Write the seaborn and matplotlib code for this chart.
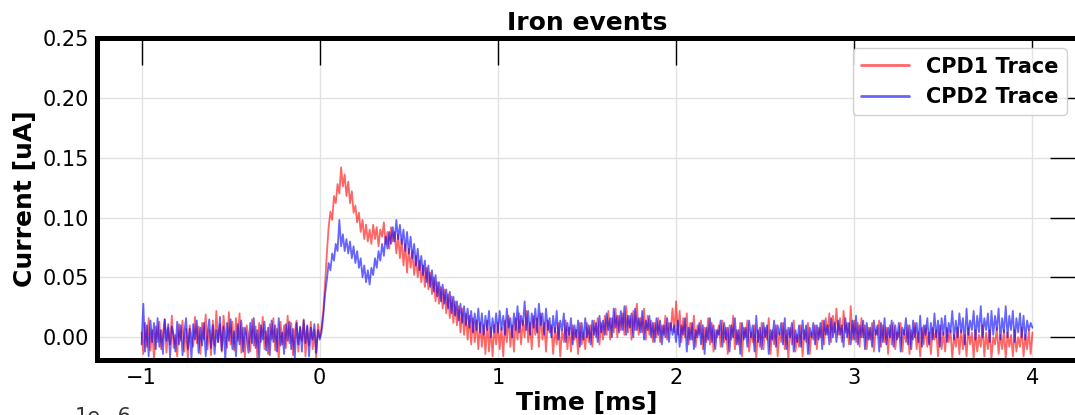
import numpy as np
import pandas as pd
import matplotlib
matplotlib.use("Agg")
import matplotlib.pyplot as plt
import seaborn as sns

# Trace samples in uA, one every 0.01 ms from -1 ms to 4 ms
# each row holds 0.1 ms of samples, row start time in the comment
cpd1_trace = [
    # baseline
    0.004, -0.014, 0.012, -0.008, 0.016, -0.011, 0.006, -0.019, 0.009, -0.004,   # -1.0
    0.013, -0.010, 0.003, 0.015, -0.013, 0.008, -0.006, 0.018, -0.009, 0.002,    # -0.9
    -0.016, 0.011, -0.003, 0.014, -0.012, 0.007, -0.018, 0.010, 0.001, -0.008,   # -0.8
    0.017, -0.005, 0.009, -0.014, 0.012, -0.002, 0.019, -0.010, 0.006, -0.015,   # -0.7
    0.014, -0.007, 0.022, -0.004, 0.011, -0.012, 0.018, 0.002, -0.009, 0.021,    # -0.6
    -0.006, 0.013, -0.011, 0.016, -0.003, 0.020, -0.013, 0.008, -0.017, 0.010,   # -0.5
    0.001, -0.012, 0.015, -0.007, 0.009, -0.018, 0.012, -0.004, 0.017, -0.010,   # -0.4
    0.005, -0.014, 0.011, -0.002, 0.016, -0.011, 0.007, -0.019, 0.013, -0.006,   # -0.3
    0.010, -0.009, 0.018, -0.005, 0.012, -0.015, 0.004, 0.014, -0.012, 0.008,    # -0.2
    -0.003, 0.015, -0.016, 0.009, -0.007, 0.013, -0.010, 0.006, -0.018, 0.011,   # -0.1
    # pulse
    0.000, 0.008, 0.022, 0.045, 0.070, 0.092, 0.105, 0.098, 0.118, 0.112,        # 0.0
    0.128, 0.120, 0.142, 0.126, 0.136, 0.118, 0.130, 0.112, 0.122, 0.104,        # 0.1
    0.110, 0.096, 0.104, 0.088, 0.098, 0.082, 0.094, 0.080, 0.090, 0.078,        # 0.2
    0.094, 0.082, 0.092, 0.076, 0.090, 0.084, 0.096, 0.078, 0.088, 0.074,        # 0.3
    0.092, 0.080, 0.088, 0.070, 0.086, 0.066, 0.082, 0.060, 0.078, 0.054,        # 0.4
    0.074, 0.058, 0.072, 0.052, 0.068, 0.050, 0.064, 0.046, 0.060, 0.042,        # 0.5
    0.058, 0.040, 0.054, 0.036, 0.050, 0.030, 0.046, 0.028, 0.042, 0.024,        # 0.6
    0.040, 0.020, 0.036, 0.016, 0.034, 0.012, 0.030, 0.010, 0.026, 0.004,        # 0.7
    0.024, 0.002, 0.020, -0.002, 0.018, -0.006, 0.016, -0.004, 0.014, -0.010,    # 0.8
    0.012, -0.008, 0.010, -0.014, 0.014, -0.012, 0.008, -0.016, 0.010, -0.006,   # 0.9
    # tail
    0.012, -0.010, 0.008, -0.016, 0.014, -0.004, 0.018, -0.008, 0.010, -0.012,   # 1.0
    0.016, -0.002, 0.020, -0.006, 0.014, 0.000, 0.022, -0.004, 0.012, -0.010,    # 1.1
    0.018, 0.002, 0.016, -0.008, 0.020, -0.002, 0.012, -0.012, 0.014, 0.004,     # 1.2
    0.010, -0.014, 0.008, -0.006, 0.012, -0.016, 0.006, -0.004, 0.014, -0.010,   # 1.3
    0.008, -0.012, 0.010, -0.002, 0.006, -0.014, 0.012, -0.006, 0.004, -0.010,   # 1.4
    0.012, -0.004, 0.010, -0.008, 0.014, 0.000, 0.016, -0.006, 0.012, -0.002,    # 1.5
    0.018, 0.002, 0.022, -0.002, 0.016, 0.004, 0.024, 0.000, 0.018, 0.006,       # 1.6
    0.020, 0.002, 0.026, 0.004, 0.018, -0.002, 0.022, 0.006, 0.028, 0.002,       # 1.7
    0.016, 0.004, 0.024, -0.002, 0.018, 0.002, 0.014, -0.004, 0.012, 0.000,      # 1.8
    0.016, -0.004, 0.010, 0.002, 0.018, -0.002, 0.012, 0.006, 0.024, 0.004,      # 1.9
    0.030, 0.002, 0.022, -0.004, 0.016, 0.000, 0.020, -0.006, 0.012, -0.002,     # 2.0
    0.018, -0.008, 0.010, 0.002, 0.014, -0.010, 0.008, -0.004, 0.016, -0.006,    # 2.1
    0.012, -0.012, 0.006, 0.000, 0.010, -0.008, 0.014, -0.004, 0.008, -0.014,    # 2.2
    0.010, -0.002, 0.018, -0.010, 0.006, -0.006, 0.012, -0.016, 0.008, 0.000,    # 2.3
    0.014, -0.012, 0.004, -0.004, 0.010, -0.018, 0.006, -0.008, 0.012, -0.010,   # 2.4
    0.008, -0.002, 0.016, -0.014, 0.006, -0.006, 0.010, -0.016, 0.004, -0.004,   # 2.5
    0.012, -0.010, 0.006, -0.018, 0.008, -0.006, 0.014, -0.012, 0.002, -0.008,   # 2.6
    0.010, -0.016, 0.006, -0.004, 0.012, -0.014, 0.004, -0.002, 0.010, -0.010,   # 2.7
    0.008, 0.000, 0.014, -0.006, 0.016, 0.002, 0.020, -0.004, 0.018, 0.004,      # 2.8
    0.024, 0.002, 0.016, -0.004, 0.022, 0.004, 0.012, -0.006, 0.026, -0.002,     # 2.9
    0.014, -0.004, 0.012, -0.008, 0.016, 0.000, 0.010, -0.010, 0.008, -0.002,    # 3.0
    0.012, -0.012, 0.006, 0.002, 0.014, -0.008, 0.010, -0.004, 0.008, -0.014,    # 3.1
    0.010, -0.006, 0.012, -0.010, 0.004, 0.000, 0.012, -0.012, 0.006, -0.004,    # 3.2
    0.010, -0.014, 0.006, -0.002, 0.012, -0.010, 0.004, -0.016, 0.008, -0.006,   # 3.3
    0.010, -0.008, 0.004, -0.014, 0.008, -0.002, 0.006, -0.016, 0.010, -0.010,   # 3.4
    0.004, -0.012, 0.008, -0.004, 0.006, -0.018, 0.002, -0.008, 0.008, -0.014,   # 3.5
    0.006, -0.010, 0.002, -0.016, 0.008, -0.006, 0.004, -0.018, 0.006, -0.012,   # 3.6
    0.002, -0.008, 0.010, -0.016, 0.004, -0.010, 0.006, -0.018, 0.000, -0.006,   # 3.7
    0.008, -0.014, 0.002, -0.010, 0.006, -0.018, 0.004, -0.008, 0.002, -0.016,   # 3.8
    0.006, -0.012, 0.000, -0.008, 0.008, -0.016, 0.002, -0.010, 0.006, -0.014,   # 3.9
    0.004,                                                                        # 4.0
]

cpd2_trace = [
    # baseline
    -0.006, 0.028, -0.012, 0.010, -0.016, 0.014, -0.004, 0.012, -0.010, 0.016,   # -1.0
    -0.008, 0.006, -0.014, 0.015, -0.003, 0.011, -0.017, 0.009, 0.002, -0.012,   # -0.9
    0.013, -0.006, 0.010, -0.015, 0.004, 0.016, -0.010, 0.007, -0.018, 0.011,    # -0.8
    -0.002, 0.014, -0.013, 0.008, -0.007, 0.012, -0.016, 0.003, 0.015, -0.009,   # -0.7
    0.010, -0.014, 0.006, -0.004, 0.017, -0.011, 0.009, -0.019, 0.012, -0.003,   # -0.6
    0.015, -0.010, 0.005, -0.016, 0.011, -0.006, 0.014, -0.012, 0.008, 0.001,    # -0.5
    -0.013, 0.012, -0.005, 0.016, -0.009, 0.006, -0.017, 0.010, -0.002, 0.013,   # -0.4
    -0.011, 0.008, -0.015, 0.014, -0.004, 0.010, -0.012, 0.016, -0.007, 0.004,   # -0.3
    -0.014, 0.011, -0.003, 0.013, -0.010, 0.007, -0.018, 0.012, -0.006, 0.009,   # -0.2
    -0.012, 0.014, -0.005, 0.010, -0.016, 0.008, -0.002, 0.011, -0.013, 0.006,   # -0.1
    # pulse
    -0.002, 0.004, 0.018, 0.036, 0.048, 0.062, 0.056, 0.070, 0.064, 0.078,       # 0.0
    0.072, 0.098, 0.076, 0.086, 0.072, 0.082, 0.070, 0.080, 0.066, 0.076,        # 0.1
    0.062, 0.072, 0.058, 0.066, 0.050, 0.060, 0.046, 0.056, 0.044, 0.058,        # 0.2
    0.052, 0.066, 0.058, 0.072, 0.064, 0.078, 0.068, 0.084, 0.074, 0.088,        # 0.3
    0.078, 0.092, 0.080, 0.098, 0.082, 0.094, 0.078, 0.090, 0.072, 0.088,        # 0.4
    0.070, 0.084, 0.066, 0.078, 0.060, 0.074, 0.056, 0.068, 0.052, 0.064,        # 0.5
    0.046, 0.060, 0.042, 0.056, 0.038, 0.052, 0.034, 0.046, 0.030, 0.044,        # 0.6
    0.028, 0.040, 0.024, 0.038, 0.020, 0.034, 0.018, 0.030, 0.014, 0.028,        # 0.7
    0.012, 0.026, 0.010, 0.024, 0.008, 0.022, 0.004, 0.020, 0.006, 0.024,        # 0.8
    0.004, 0.020, 0.002, 0.018, 0.006, 0.022, 0.000, 0.016, 0.004, 0.020,        # 0.9
    # tail
    0.004, 0.022, 0.006, 0.018, 0.002, 0.024, 0.008, 0.016, 0.000, 0.020,        # 1.0
    0.006, 0.026, 0.004, 0.018, 0.010, 0.030, 0.006, 0.022, 0.002, 0.020,        # 1.1
    0.008, 0.024, 0.004, 0.028, 0.010, 0.020, 0.002, 0.024, 0.006, 0.016,        # 1.2
    0.000, 0.018, 0.004, 0.022, -0.002, 0.014, 0.006, 0.020, -0.004, 0.012,      # 1.3
    0.002, 0.016, -0.006, 0.010, 0.000, 0.014, -0.008, 0.012, -0.002, 0.016,     # 1.4
    0.000, 0.010, -0.006, 0.014, 0.002, 0.012, -0.004, 0.018, 0.004, 0.014,      # 1.5
    0.002, 0.020, 0.006, 0.016, 0.000, 0.024, 0.008, 0.018, 0.004, 0.022,        # 1.6
    0.006, 0.026, 0.002, 0.018, 0.008, 0.020, 0.000, 0.024, 0.006, 0.016,        # 1.7
    0.004, 0.022, -0.002, 0.014, 0.006, 0.018, 0.000, 0.012, -0.004, 0.016,      # 1.8
    0.002, 0.014, -0.006, 0.010, 0.000, 0.016, -0.004, 0.012, 0.002, 0.010,      # 1.9
    -0.004, 0.014, -0.008, 0.010, 0.002, 0.016, -0.012, 0.008, -0.002, 0.012,    # 2.0
    -0.010, 0.006, 0.000, 0.012, -0.006, 0.010, -0.014, 0.008, -0.002, 0.016,    # 2.1
    -0.004, 0.010, -0.010, 0.006, 0.002, 0.014, -0.008, 0.012, -0.002, 0.008,    # 2.2
    -0.012, 0.010, 0.000, 0.016, -0.006, 0.006, -0.014, 0.012, -0.002, 0.008,    # 2.3
    -0.008, 0.014, 0.000, 0.010, -0.012, 0.018, -0.004, 0.008, -0.010, 0.012,    # 2.4
    0.000, 0.010, -0.014, 0.006, -0.002, 0.014, -0.008, 0.010, 0.002, 0.012,     # 2.5
    -0.006, 0.016, -0.010, 0.008, 0.000, 0.012, -0.012, 0.006, -0.004, 0.010,    # 2.6
    -0.008, 0.014, -0.002, 0.010, -0.014, 0.008, 0.000, 0.012, -0.006, 0.010,    # 2.7
    -0.002, 0.012, -0.010, 0.014, 0.002, 0.010, -0.006, 0.016, 0.000, 0.012,     # 2.8
    -0.004, 0.014, 0.002, 0.010, -0.008, 0.016, 0.000, 0.012, -0.006, 0.014,     # 2.9
    -0.002, 0.018, -0.006, 0.010, 0.000, 0.014, -0.010, 0.012, -0.002, 0.008,    # 3.0
    -0.008, 0.014, 0.002, 0.010, -0.012, 0.012, -0.004, 0.016, -0.006, 0.008,    # 3.1
    0.000, 0.014, -0.008, 0.010, -0.002, 0.012, -0.012, 0.008, 0.002, 0.016,     # 3.2
    -0.006, 0.010, -0.010, 0.014, 0.000, 0.012, -0.004, 0.018, -0.008, 0.010,    # 3.3
    0.002, 0.016, -0.006, 0.012, -0.002, 0.020, 0.000, 0.014, -0.008, 0.016,     # 3.4
    0.002, 0.018, -0.004, 0.012, 0.004, 0.022, -0.002, 0.014, 0.000, 0.020,      # 3.5
    0.004, 0.016, -0.006, 0.024, 0.002, 0.014, 0.006, 0.022, -0.002, 0.018,      # 3.6
    0.004, 0.026, 0.000, 0.016, 0.006, 0.020, -0.004, 0.022, 0.002, 0.018,       # 3.7
    0.006, 0.024, -0.002, 0.016, 0.004, 0.026, 0.000, 0.018, 0.006, 0.022,       # 3.8
    -0.004, 0.016, 0.004, 0.020, 0.000, 0.018, -0.002, 0.014, 0.006, 0.012,      # 3.9
    0.008,                                                                        # 4.0
]

t_start, t_stop = -1.0, 4.0
labels = ["CPD1 Trace", "CPD2 Trace"]
colors = {"CPD1 Trace": "red", "CPD2 Trace": "blue"}

frames = []
for name, trace in zip(labels, [cpd1_trace, cpd2_trace]):
    frames.append(pd.DataFrame({
        "Time": np.linspace(t_start, t_stop, len(trace)),
        "Current": trace,
        "Channel": name,
    }))
df = pd.concat(frames, ignore_index=True)

sns.set_style("white")
plt.rcParams['font.family'] = ['DejaVu Sans']
plt.rcParams['text.color'] = 'black'
plt.rcParams['axes.labelcolor'] = 'black'
plt.rcParams['xtick.color'] = 'black'
plt.rcParams['ytick.color'] = 'black'

fig = plt.figure(figsize=(10.75, 4.15), dpi=100)
# axes runs a little past the right edge, like the cropped original
ax = fig.add_axes([97 / 1075, 55 / 415, 980 / 1075, 322 / 415])

sns.lineplot(data=df, x="Time", y="Current", hue="Channel", palette=colors,
             estimator=None, sort=False, alpha=0.6, linewidth=1.3, ax=ax)

ax.set_xlim(-1.25, 4.25)
ax.set_ylim(-0.019, 0.25)
ax.set_xticks([-1, 0, 1, 2, 3, 4])
ax.set_yticks([0.0, 0.05, 0.10, 0.15, 0.20, 0.25])
ax.set_yticklabels(["0.00", "0.05", "0.10", "0.15", "0.20", "0.25"])

ax.grid(True, color="#e2e2e2", linewidth=1.0)
ax.tick_params(direction="in", length=19.5, width=1, top=True, right=True,
               labelsize=15, pad=6, colors="black")
for side in ax.spines.values():
    side.set_linewidth(3.6)
    side.set_color("black")

ax.set_title("Iron events", fontsize=18, fontweight="bold", pad=6)
ax.set_xlabel("Time [ms]", fontsize=18, fontweight="bold", labelpad=2)
ax.set_ylabel("Current [uA]", fontsize=18, fontweight="bold", labelpad=4)

leg = ax.legend(loc="upper right", handlelength=2.3,
                prop={"weight": "bold", "size": 15}, framealpha=0.9)
for line in leg.get_lines():
    line.set_linewidth(2)

# offset label of the panel below, cut by the crop
fig.text(75 / 1075, 8 / 415, "1e\u22126", fontsize=15, va="top", ha="left",
         color="#333333")

fig.savefig("out.png", dpi=100)
